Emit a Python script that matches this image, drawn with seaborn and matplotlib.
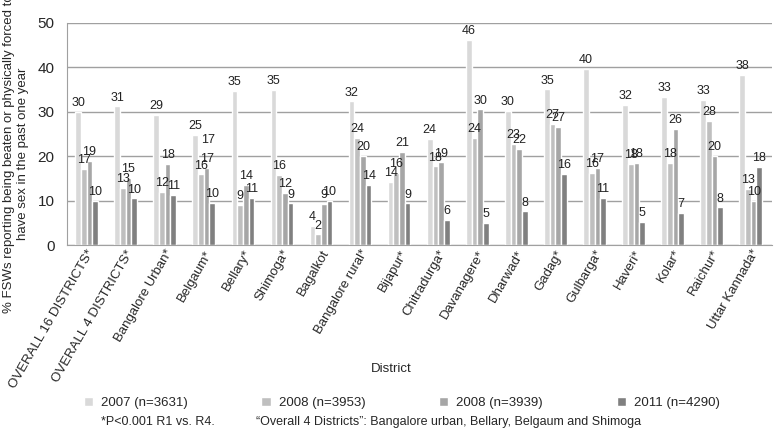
import pandas as pd
import numpy as np
import matplotlib.pyplot as plt
import seaborn as sns

# data
districts = ['OVERALL 16 DISTRICTS*', 'OVERALL 4 DISTRICTS*', 'Bangalore Urban*', 'Belgaum*',
             'Bellary*', 'Shimoga*', 'Bagalkot', 'Bangalore rural*', 'Bijapur*', 'Chitradurga*',
             'Davanagere*', 'Dharwad*', 'Gadag*', 'Gulbarga*', 'Haveri*', 'Kolar*', 'Raichur*',
             'Uttar Kannada*']
rounds = ['2007 (n=3631)', '2008 (n=3953)', '2008 (n=3939)', '2011 (n=4290)']
r2007 = [30.0, 31.2, 29.3, 24.8, 34.6, 34.9, 4.3, 32.3, 14.2, 23.9, 46.2, 30.1, 35.0, 39.6, 31.5, 33.3, 32.7, 38.2]
r2008a = [17.1, 12.8, 12.0, 15.9, 9.1, 15.8, 2.4, 24.2, 16.3, 17.7, 24.1, 22.7, 27.2, 16.2, 18.2, 18.5, 28.0, 12.6]
r2008b = [18.9, 15.2, 18.2, 17.3, 13.6, 11.8, 9.2, 20.1, 21.0, 18.6, 30.5, 21.6, 26.6, 17.3, 18.5, 26.1, 20.1, 10.0]
r2011 = [10.0, 10.5, 11.3, 9.5, 10.6, 9.4, 10.0, 13.6, 9.4, 5.6, 5.0, 7.6, 16.1, 10.7, 5.2, 7.2, 8.5, 17.6]
colors = ['#d9d9d9', '#bfbfbf', '#a6a6a6', '#808080']

df = pd.DataFrame({
    'District': districts * 4,
    'Round': np.repeat(rounds, len(districts)),
    'Value': r2007 + r2008a + r2008b + r2011,
})

sns.set_style('white')
plt.rcParams['font.family'] = ['Liberation Sans', 'DejaVu Sans']

fig = plt.figure(figsize=(7.75, 4.3), dpi=100)
ax = fig.add_axes([0.0865, 0.430, 0.91, 0.517])

sns.barplot(data=df, x='District', y='Value', hue='Round', hue_order=rounds,
            palette=colors, width=0.58, ax=ax, saturation=1, legend=True)

for c in ax.containers:
    ax.bar_label(c, fmt='%.0f', fontsize=9, padding=2, color='#222222')
# stray duplicate label in the original (Belgaum)
ax.text(3.12, 23.0, '17', fontsize=9, ha='center', color='#222222')

ax.set_ylim(0, 50)
ax.set_yticks([0, 10, 20, 30, 40, 50])
ax.yaxis.grid(True, color='#a0a0a0', linewidth=1)
ax.set_axisbelow(True)
for s in ['top', 'right']:
    ax.spines[s].set_visible(False)
for s in ['left', 'bottom']:
    ax.spines[s].set_color('#a0a0a0')
ax.tick_params(axis='y', length=5, color='#a0a0a0', labelsize=11, pad=4)
ax.tick_params(axis='x', length=0, labelsize=9.5, pad=2)
plt.setp(ax.get_xticklabels(), rotation=60, ha='right', rotation_mode='anchor')
ax.set_xlim(-0.5, len(districts) - 0.45)

ax.set_ylabel('% FSWs reporting being beaten or physically forced to\nhave sex in the past one year',
              fontsize=9.5)
ax.yaxis.set_label_coords(-0.054, 0.41)
ax.set_xlabel('District', fontsize=9.5, labelpad=0)
ax.xaxis.set_label_coords(0.46, -0.53)

ax.get_legend().remove()
handles, labels = ax.get_legend_handles_labels()
fig.legend(handles, labels, loc='center left', bbox_to_anchor=(0.108, 0.063), ncol=4,
           frameon=False, fontsize=9.5, handlelength=0.7, handleheight=0.7,
           columnspacing=5.6, handletextpad=0.6, borderaxespad=0, borderpad=0)

fig.text(0.13, 0.012, '*P<0.001 R1 vs. R4.', fontsize=9)
fig.text(0.33, 0.012, '\u201cOverall 4 Districts\u201d: Bangalore urban, Bellary, Belgaum and Shimoga', fontsize=9)

fig.savefig('out.png', dpi=100)
